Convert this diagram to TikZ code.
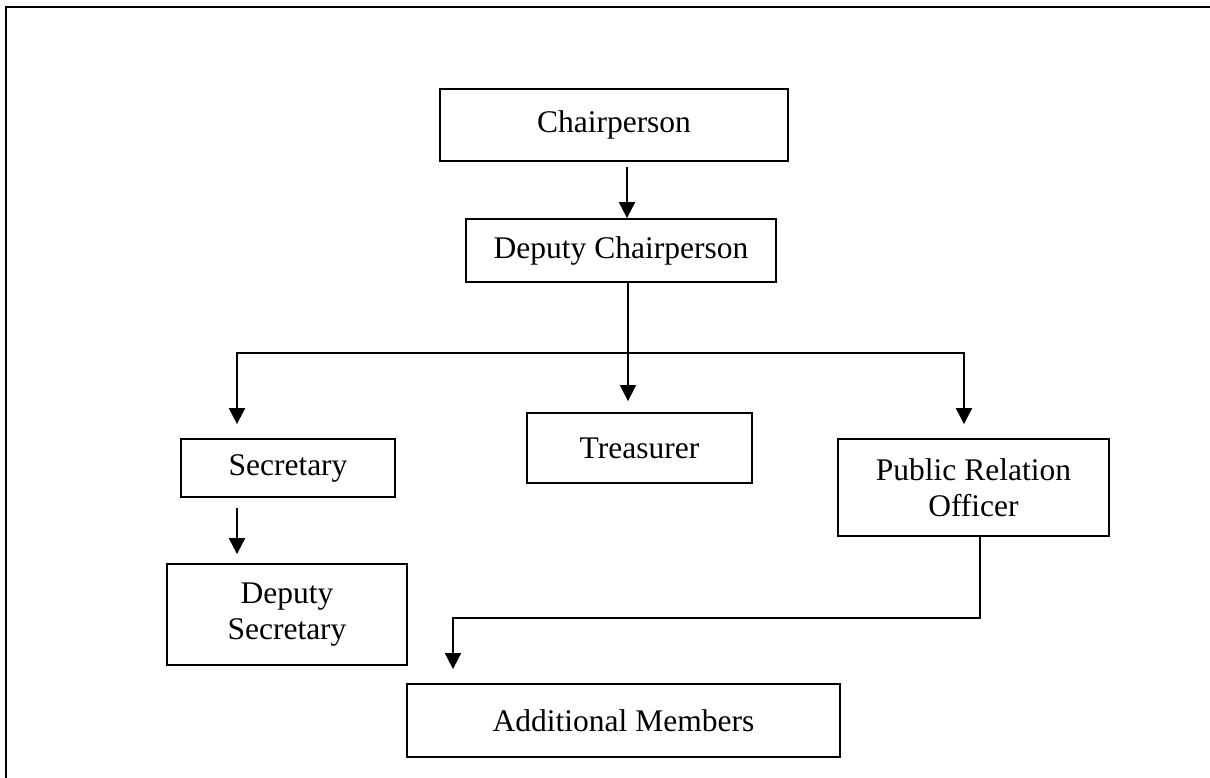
\documentclass[tikz,border=0pt]{standalone}
\usepackage{fontspec}
\setmainfont{Liberation Serif}
\usetikzlibrary{arrows.meta}
\newcommand{\chartfont}{\fontsize{31.5}{36}\selectfont}
\begin{document}
\begin{tikzpicture}[x=1pt,y=-1pt,
  box/.style={draw, line width=1.8pt, inner sep=0pt, align=center, font=\chartfont},
  arr/.style={-{Triangle[width=16pt,length=16pt]}, line width=2pt},
  link/.style={line width=1.8pt}]
\useasboundingbox (0,0) rectangle (1210,778);

% page frame
\draw[line width=2.8pt] (6,778) -- (6,7) -- (1210,7);

% offices
\node[box, minimum width=348pt, minimum height=72pt] (chair)  at (614,125)   {Chairperson};
\node[box, minimum width=310pt, minimum height=63pt] (dep)    at (621,250.5) {Deputy Chairperson};
\node[box, minimum width=214pt, minimum height=58pt] (sec)    at (288,468)   {Secretary};
\node[box, minimum width=240pt, minimum height=101pt] (depsec) at (287,614.5) {Deputy\\Secretary};
\node[box, minimum width=225pt, minimum height=70pt] (treas)  at (639.5,448) {Treasurer};
\node[box, minimum width=271pt, minimum height=97pt] (pro)    at (973.5,487.5) {Public Relation\\Officer};
\node[box, minimum width=433pt, minimum height=73pt] (add)    at (623.5,720.5) {Additional Members};

% connector columns
\coordinate (xa)   at (627,0);
\coordinate (xb)   at (628,0);
\coordinate (xsec) at (237,0);
\coordinate (xpro) at (964,0);
\coordinate (xpo)  at (980,0);
\coordinate (xadd) at (453,0);
\coordinate (bus)  at (628,353);
\coordinate (elbow) at (980,618);

% chain of command
\draw[arr, shorten <=5pt] (chair.south -| xa) -- (dep.north -| xa);
\draw[arr, line width=1.6pt, shorten >=11pt] (dep.south -| xb) -- (treas.north -| xb);
\draw[arr, shorten >=14pt] (bus) -| (sec.north -| xsec);
\draw[arr, shorten >=14pt] (bus) -| (pro.north -| xpro);
\draw[arr, shorten <=10pt, shorten >=9pt] (sec.south -| xsec) -- (depsec.north -| xsec);
\draw[arr, line width=1.8pt, shorten >=14pt] (pro.south -| xpo) -- (elbow) -| (add.north -| xadd);
\end{tikzpicture}
\end{document}
